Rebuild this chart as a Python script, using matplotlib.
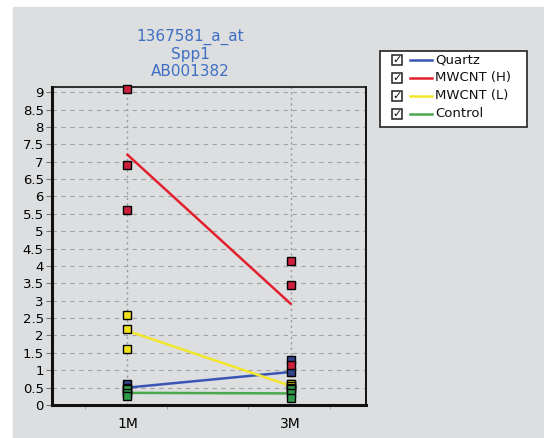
import matplotlib.pyplot as plt
from matplotlib.patches import Rectangle
import numpy as np

# time points and replicate values per group
months = ["1M", "3M"]
groups = ["Quartz", "MWCNT (H)", "MWCNT (L)", "Control"]
quartz = [[0.60, 0.50, 0.40], [1.30, 0.95, 0.60]]
mwcnt_h = [[9.10, 6.90, 5.60], [4.15, 3.45, 1.15]]
mwcnt_l = [[2.60, 2.20, 1.60], [0.60, 0.55, 0.50]]
control = [[0.45, 0.35, 0.25], [0.45, 0.35, 0.20]]
yticks = np.arange(0, 9.5, 0.5)

line_colors = ["#3a55b4", "#e2202e", "#f2e62a", "#4aa84e"]
box_colors = ["#33448c", "#cc1f3c", "#f2e21c", "#2f9a4a"]
W, H = 544, 438

fig = plt.figure(figsize=(W / 100, H / 100), dpi=100)
fig.patch.set_facecolor("white")
fig.patches.append(Rectangle((13 / W, 0), 1 - 13 / W, (H - 7) / H,
                             transform=fig.transFigure, color="#dcdee0", zorder=-5))

ax = fig.add_axes([52 / W, (H - 405) / H, (366 - 52) / W, (405 - 87) / H])
ax.set_zorder(2)
ax.set_facecolor("#dcdee0")
x = np.arange(1, len(months) + 1)

for data, lc, bc in zip([quartz, mwcnt_h, mwcnt_l, control], line_colors, box_colors):
    means = [np.mean(v) for v in data]
    ax.plot(x, means, color=lc, lw=1.8, zorder=3)
    for xi, vals in zip(x, data):
        ax.plot([xi] * len(vals), vals, ls="none", marker="s", ms=5.5,
                mfc=bc, mec="black", mew=1.0, zorder=4, clip_on=False)

ax.set_xlim(1 - 0.463, 2 + 0.463)
ax.set_ylim(0, 9.15)
ax.set_yticks(yticks)
ax.set_yticklabels([f"{t:g}" for t in yticks], fontsize=9.5)
ax.set_xticks(x)
ax.set_xticklabels(months, fontsize=10)
ax.set_xticks([0.74, 1.24, 1.74, 2.24], minor=True)
ax.tick_params(axis="x", which="major", length=0, pad=9)
ax.tick_params(axis="x", which="minor", length=3, color="#999999")
ax.tick_params(axis="y", length=4, color="#777777", pad=2)
ax.grid(axis="y", color="#a4a4a4", ls=(0, (4, 4)), lw=0.8)
ax.grid(axis="x", which="major", color="#999999", ls=(0, (1.5, 2.5)), lw=1.0)
ax.set_axisbelow(True)
for side, w in [("left", 2.2), ("bottom", 2.2), ("top", 1.2), ("right", 1.4)]:
    ax.spines[side].set_linewidth(w)
    ax.spines[side].set_color("#111111")

for i, line in enumerate(["1367581_a_at", "Spp1", "AB001382"]):
    fig.text(190 / W, 1 - (37 + 17 * i) / H, line, ha="center", va="center",
             fontsize=11, color="#3f6fc4")

# legend panel with check boxes
fig.patches.append(Rectangle((380 / W, 1 - 127 / H), (527 - 380) / W, (127 - 51) / H,
                             transform=fig.transFigure, facecolor="white",
                             edgecolor="#222222", lw=1.2, zorder=5))
for i, (name, lc) in enumerate(zip(groups, line_colors)):
    yc = 60 + 18 * i
    fig.patches.append(Rectangle((392 / W, 1 - (yc + 5) / H), 10 / W, 10 / H,
                                 transform=fig.transFigure, facecolor="white",
                                 edgecolor="#222222", lw=1.1, zorder=6))
    fig.text(397.5 / W, 1 - yc / H, "\u2713", ha="center", va="center",
             fontsize=8, color="#111111", fontweight="bold", zorder=7)
    fig.add_artist(plt.Line2D([410 / W, 432 / W], [1 - yc / H, 1 - yc / H],
                              transform=fig.transFigure, color=lc, lw=1.8, zorder=6))
    fig.text(435 / W, 1 - yc / H, name, ha="left", va="center",
             fontsize=9.5, color="#111111", zorder=7)

fig.savefig("out.png", dpi=100)
